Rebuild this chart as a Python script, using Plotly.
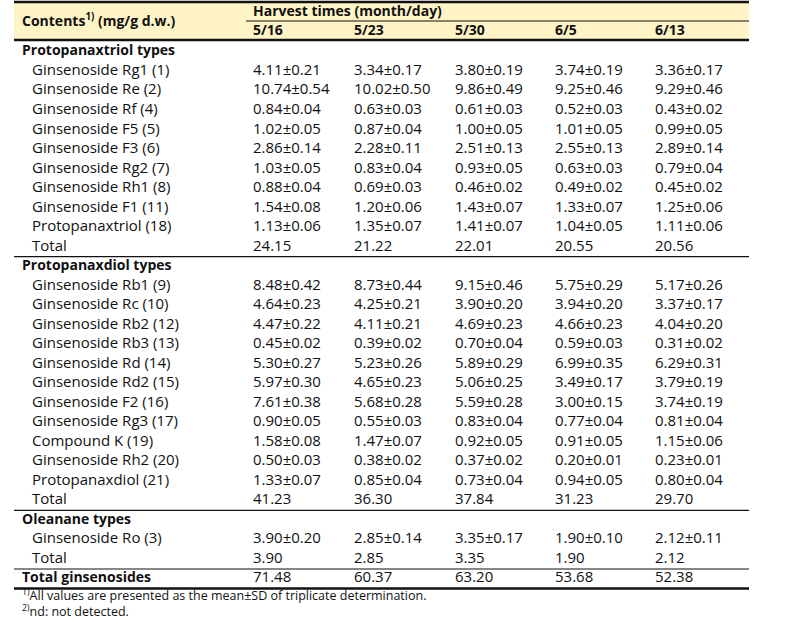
import plotly.graph_objects as go

# harvest dates (month/day)
dates = ["5/16", "5/23", "5/30", "6/5", "6/13"]

# protopanaxatriol types
ppt_names = ["Ginsenoside Rg1 (1)", "Ginsenoside Re (2)", "Ginsenoside Rf (4)",
             "Ginsenoside F5 (5)", "Ginsenoside F3 (6)", "Ginsenoside Rg2 (7)",
             "Ginsenoside Rh1 (8)", "Ginsenoside F1 (11)", "Protopanaxtriol (18)"]
ppt_mean = [[4.11, 3.34, 3.80, 3.74, 3.36],
            [10.74, 10.02, 9.86, 9.25, 9.29],
            [0.84, 0.63, 0.61, 0.52, 0.43],
            [1.02, 0.87, 1.00, 1.01, 0.99],
            [2.86, 2.28, 2.51, 2.55, 2.89],
            [1.03, 0.83, 0.93, 0.63, 0.79],
            [0.88, 0.69, 0.46, 0.49, 0.45],
            [1.54, 1.20, 1.43, 1.33, 1.25],
            [1.13, 1.35, 1.41, 1.04, 1.11]]
ppt_sd = [[0.21, 0.17, 0.19, 0.19, 0.17],
          [0.54, 0.50, 0.49, 0.46, 0.46],
          [0.04, 0.03, 0.03, 0.03, 0.02],
          [0.05, 0.04, 0.05, 0.05, 0.05],
          [0.14, 0.11, 0.13, 0.13, 0.14],
          [0.05, 0.04, 0.05, 0.03, 0.04],
          [0.04, 0.03, 0.02, 0.02, 0.02],
          [0.08, 0.06, 0.07, 0.07, 0.06],
          [0.06, 0.07, 0.07, 0.05, 0.06]]
ppt_total = [24.15, 21.22, 22.01, 20.55, 20.56]

# protopanaxadiol types
ppd_names = ["Ginsenoside Rb1 (9)", "Ginsenoside Rc (10)", "Ginsenoside Rb2 (12)",
             "Ginsenoside Rb3 (13)", "Ginsenoside Rd (14)", "Ginsenoside Rd2 (15)",
             "Ginsenoside F2 (16)", "Ginsenoside Rg3 (17)", "Compound K (19)",
             "Ginsenoside Rh2 (20)", "Protopanaxdiol (21)"]
ppd_mean = [[8.48, 8.73, 9.15, 5.75, 5.17],
            [4.64, 4.25, 3.90, 3.94, 3.37],
            [4.47, 4.11, 4.69, 4.66, 4.04],
            [0.45, 0.39, 0.70, 0.59, 0.31],
            [5.30, 5.23, 5.89, 6.99, 6.29],
            [5.97, 4.65, 5.06, 3.49, 3.79],
            [7.61, 5.68, 5.59, 3.00, 3.74],
            [0.90, 0.55, 0.83, 0.77, 0.81],
            [1.58, 1.47, 0.92, 0.91, 1.15],
            [0.50, 0.38, 0.37, 0.20, 0.23],
            [1.33, 0.85, 0.73, 0.94, 0.80]]
ppd_sd = [[0.42, 0.44, 0.46, 0.29, 0.26],
          [0.23, 0.21, 0.20, 0.20, 0.17],
          [0.22, 0.21, 0.23, 0.23, 0.20],
          [0.02, 0.02, 0.04, 0.03, 0.02],
          [0.27, 0.26, 0.29, 0.35, 0.31],
          [0.30, 0.23, 0.25, 0.17, 0.19],
          [0.38, 0.28, 0.28, 0.15, 0.19],
          [0.05, 0.03, 0.04, 0.04, 0.04],
          [0.08, 0.07, 0.05, 0.05, 0.06],
          [0.03, 0.02, 0.02, 0.01, 0.01],
          [0.07, 0.04, 0.04, 0.05, 0.04]]
ppd_total = [41.23, 36.30, 37.84, 31.23, 29.70]

# oleanane types
ole_names = ["Ginsenoside Ro (3)"]
ole_mean = [[3.90, 2.85, 3.35, 1.90, 2.12]]
ole_sd = [[0.20, 0.14, 0.17, 0.10, 0.11]]
ole_total = [3.90, 2.85, 3.35, 1.90, 2.12]

grand_total = [71.48, 60.37, 63.20, 53.68, 52.38]

footnotes = ["<sup>1)</sup>All values are presented as the mean±SD of triplicate determination.",
             "<sup>2)</sup>nd: not detected."]

FONT = "Open Sans"
INK = "#111111"
HEAD_BG = "#FFF4C6"
FS = 15
FS_BOLD = 14

# build the body rows: (label, bold?, cells)
rows = []
for group, names, means, sds, total in [
        ("Protopanaxtriol types", ppt_names, ppt_mean, ppt_sd, ppt_total),
        ("Protopanaxdiol types", ppd_names, ppd_mean, ppd_sd, ppd_total),
        ("Oleanane types", ole_names, ole_mean, ole_sd, ole_total)]:
    rows.append((group, True, [""] * 5))
    for n, m, s in zip(names, means, sds):
        rows.append((n, False, [f"{a:.2f}±{b:.2f}" for a, b in zip(m, s)]))
    rows.append(("Total", False, [f"{v:.2f}" for v in total]))
rows.append(("Total ginsenosides", True, [f"{v:.2f}" for v in grand_total]))

# row index -> pixel: y = 51.7 + i*19.52
PITCH = 19.52
Y0 = 51.7
def yr(px):
    return (px - Y0) / PITCH

col_x = [253, 354, 455, 555, 655]
TL, TR = 14, 749

fig = go.Figure()

def text_trace(xs, ys, texts, size=FS, bold=False):
    fig.add_trace(go.Scatter(
        x=xs, y=ys, text=texts,
        mode="text", textposition="middle right",
        textfont=dict(family=FONT, size=size, color=INK,
                      weight="bold" if bold else "normal"),
        hoverinfo="skip", showlegend=False))

idx = list(range(len(rows)))
bold_idx = [i for i in idx if rows[i][1]]
norm_idx = [i for i in idx if not rows[i][1]]
text_trace([22] * len(bold_idx), bold_idx, [rows[i][0] for i in bold_idx],
           size=FS_BOLD, bold=True)
text_trace([32] * len(norm_idx), norm_idx, [rows[i][0] for i in norm_idx])

for c, cx in enumerate(col_x):
    filled = [i for i in idx if rows[i][2][c]]
    text_trace([cx] * len(filled), filled, [rows[i][2][c] for i in filled])

# header
fig.add_shape(type="rect", x0=TL, x1=TR, y0=yr(2), y1=yr(40),
              fillcolor=HEAD_BG, line_width=0, layer="below")
text_trace([22, col_x[0]] + col_x, [yr(22), yr(12)] + [yr(31)] * 5,
           ["Contents<sup>1)</sup> (mg/g d.w.)", "Harvest times (month/day)"] + dates,
           size=FS_BOLD, bold=True)

# rules
def hline(y, width, x0=TL):
    fig.add_shape(type="line", x0=x0, x1=TR, y0=y, y1=y,
                  line=dict(color=INK, width=width))

hline(yr(2), 2.5)
hline(yr(21), 1, x0=246)
hline(yr(40), 2.5)
n_ppt = len(ppt_names) + 2
n_ppd = len(ppd_names) + 2
n_ole = len(ole_names) + 2
for k in [n_ppt, n_ppt + n_ppd, n_ppt + n_ppd + n_ole]:
    hline(k - 0.5, 1.2)
hline(len(rows) - 0.5, 2.5)

# footnotes
text_trace([22, 22], [yr(597), yr(613)], footnotes, size=12.5)

fig.update_xaxes(range=[0, 789], visible=False, fixedrange=True)
fig.update_yaxes(range=[yr(630), yr(0)], visible=False, fixedrange=True)
fig.update_layout(width=789, height=630, margin=dict(l=0, r=0, t=0, b=0),
                  paper_bgcolor="white", plot_bgcolor="white")

# drop the default body margin so the figure sits at the page corner
fig.write_html("out.html", config={"displayModeBar": False},
               post_script="document.body.style.margin='0';")
